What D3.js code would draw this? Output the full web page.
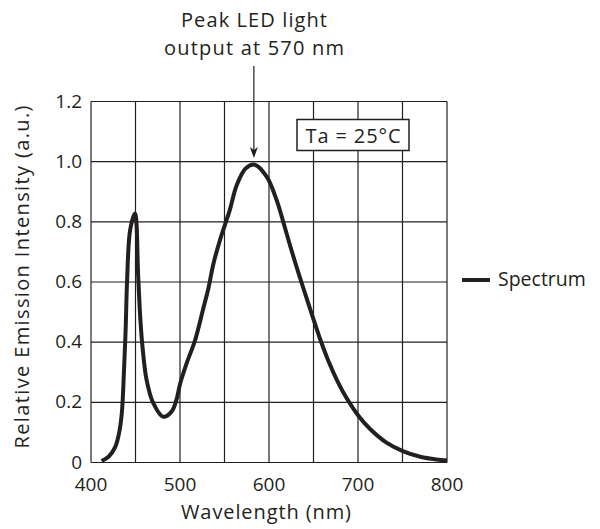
<!DOCTYPE html>
<html>
<head>
<meta charset="utf-8">
<script src="https://cdn.jsdelivr.net/npm/d3@7"></script>
<style>
  body { margin: 0; background: #fff; }
  text { font-family: "Open Sans", sans-serif; fill: #231f20; }
</style>
</head>
<body>
<svg id="chart" width="600" height="529"></svg>
<script>
// spectrum (nm, relative intensity)
const wavelength = [412, 420, 427, 431, 434.5, 437, 439, 440.5, 444, 449.4, 453, 455.5, 458, 462.5, 470, 481, 490.5, 496, 500, 507.5, 517, 526, 532, 537.5, 545, 550.5, 556, 563.7, 574, 584, 597.4, 608.6, 616, 624, 631, 638, 648, 657, 667, 677, 688, 700, 713, 732, 751, 770, 788, 800];
const intensity = [0.005, 0.02, 0.05, 0.09, 0.16, 0.3, 0.45, 0.6, 0.773, 0.828, 0.62, 0.474, 0.38, 0.274, 0.197, 0.152, 0.169, 0.208, 0.26, 0.33, 0.407, 0.51, 0.58, 0.66, 0.74, 0.79, 0.84, 0.922, 0.978, 0.99, 0.95, 0.872, 0.8, 0.718, 0.65, 0.585, 0.494, 0.414, 0.336, 0.27, 0.21, 0.157, 0.113, 0.066, 0.037, 0.019, 0.01, 0.007];
const xTicks = [400, 500, 600, 700, 800];
const xGrid = [400, 450, 500, 550, 600, 650, 700, 750, 800];
const yTicks = [0, 0.2, 0.4, 0.6, 0.8, 1.0, 1.2];
const peakAt = 583;

const svg = d3.select("#chart");
const x = d3.scaleLinear().domain([400, 800]).range([91, 447]);
const y = d3.scaleLinear().domain([0, 1.2]).range([462.5, 101.5]);
const ink = "#231f20";

// grid
svg.append("g").selectAll("line").data(xGrid).join("line")
  .attr("x1", d => x(d)).attr("x2", d => x(d))
  .attr("y1", y(0)).attr("y2", y(1.2))
  .attr("stroke", ink).attr("stroke-width", 1.2);
svg.append("g").selectAll("line").data(yTicks).join("line")
  .attr("x1", x(400)).attr("x2", x(800))
  .attr("y1", d => y(d)).attr("y2", d => y(d))
  .attr("stroke", ink).attr("stroke-width", 1.2);

// tick labels
svg.append("g").selectAll("text").data(yTicks).join("text")
  .attr("x", 82).attr("y", d => y(d) + 6)
  .attr("text-anchor", "end").attr("font-size", 19)
  .text(d => d === 0 ? "0" : d.toFixed(1));
svg.append("g").selectAll("text").data(xTicks).join("text")
  .attr("x", d => x(d)).attr("y", 491)
  .attr("text-anchor", "middle").attr("font-size", 19)
  .text(d => d);

// axis titles
svg.append("text").attr("x", 266).attr("y", 519)
  .attr("text-anchor", "middle").attr("font-size", 20)
  .attr("textLength", 170).attr("lengthAdjust", "spacing")
  .text("Wavelength (nm)");
svg.append("text")
  .attr("transform", "translate(29,277) rotate(-90)")
  .attr("text-anchor", "middle").attr("font-size", 20)
  .attr("textLength", 343).attr("lengthAdjust", "spacing")
  .text("Relative Emission Intensity (a.u.)");

// spectrum
const line = d3.line().x((d, i) => x(wavelength[i])).y(d => y(d))
  .curve(d3.curveCatmullRom.alpha(0.5));
svg.append("path").datum(intensity)
  .attr("d", line).attr("fill", "none")
  .attr("stroke", ink).attr("stroke-width", 4)
  .attr("stroke-linejoin", "round");

// Ta box
svg.append("rect").attr("x", 297).attr("y", 119.5).attr("width", 112).attr("height", 31)
  .attr("fill", "#fff").attr("stroke", ink).attr("stroke-width", 1.5);
svg.append("text").attr("x", 353).attr("y", 143).attr("text-anchor", "middle")
  .attr("font-size", 20).attr("textLength", 95).attr("lengthAdjust", "spacing")
  .text("Ta = 25°C");

// peak annotation
svg.append("text").attr("x", 254).attr("y", 27).attr("text-anchor", "middle")
  .attr("font-size", 20).attr("textLength", 146).attr("lengthAdjust", "spacing")
  .text("Peak LED light");
svg.append("text").attr("x", 254).attr("y", 55).attr("text-anchor", "middle")
  .attr("font-size", 20).attr("textLength", 180).attr("lengthAdjust", "spacing")
  .text("output at 570 nm");
svg.append("line").attr("x1", x(peakAt)).attr("x2", x(peakAt))
  .attr("y1", 66).attr("y2", 152).attr("stroke", ink).attr("stroke-width", 1.2);
svg.append("path")
  .attr("d", `M${x(peakAt) - 4},147 L${x(peakAt)},158 L${x(peakAt) + 4},147 L${x(peakAt)},150 Z`)
  .attr("fill", ink);

// legend
svg.append("line").attr("x1", 462).attr("x2", 490).attr("y1", 280).attr("y2", 280)
  .attr("stroke", ink).attr("stroke-width", 4);
svg.append("text").attr("x", 498).attr("y", 286).attr("font-size", 19.5).text("Spectrum");
</script>
</body>
</html>
